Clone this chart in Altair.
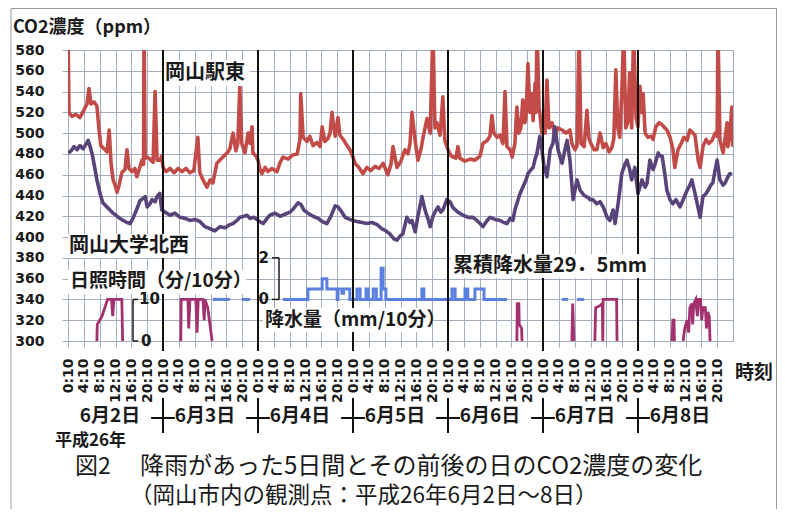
import altair as alt
import pandas as pd

# ---------------- data ----------------
SITE_EAST = "岡山駅東"
SITE_NW = "岡山大学北西"

# hours since 6/2 0:10, CO2 ppm (values above 580 are off-scale spikes)
RED_PAIRS = [
    (0, 600), (0.25, 520), (1.0, 516), (2.0, 518), (3.0, 515), (4.0, 522), (4.8, 528), (5.3, 543),
    (5.8, 528), (6.6, 530), (7.3, 526), (7.8, 505), (8.3, 488), (9.1, 485), (9.9, 482), (10.4, 503),
    (10.9, 470), (11.4, 455), (11.9, 450), (12.4, 443), (12.9, 450), (13.6, 462), (14.4, 465),
    (14.9, 484), (15.4, 466), (16.2, 463), (16.9, 466), (17.4, 458), (18.2, 468), (18.7, 474),
    (19.1, 470), (19.2, 600), (19.5, 476), (20.0, 477), (20.7, 475), (21.5, 472), (22.0, 540),
    (22.5, 474), (23.2, 474), (23.7, 478),
    (24.0, 467), (24.8, 463), (25.8, 466), (26.8, 462), (27.8, 466), (28.8, 463), (29.8, 466),
    (30.8, 462), (31.8, 464), (32.8, 496), (33.3, 462), (34.1, 455), (35.1, 448), (35.9, 455),
    (36.6, 452), (37.6, 471), (38.9, 476), (40.2, 481), (40.9, 485), (41.7, 500), (42.4, 483),
    (42.9, 490), (43.4, 545), (43.9, 490), (44.7, 481), (45.5, 500), (46.0, 490), (46.5, 506),
    (46.7, 481), (47.5, 478), (48.0, 474),
    (48.5, 465), (49.0, 461), (49.8, 467), (50.5, 463), (51.5, 466), (52.8, 463), (53.6, 472),
    (54.3, 477), (55.6, 475), (56.8, 479), (57.9, 480), (58.6, 494), (58.8, 538), (59.4, 496),
    (60.4, 492), (61.1, 497), (61.9, 488), (62.9, 491), (63.7, 487), (64.2, 506), (64.9, 492),
    (65.7, 495), (66.2, 500), (66.7, 520), (67.0, 510), (67.5, 497), (68.2, 515), (68.7, 498),
    (69.7, 493), (70.5, 488), (71.2, 484), (72.0, 477),
    (72.5, 471), (73.5, 467), (74.5, 461), (75.5, 467), (76.5, 464), (77.6, 468), (78.6, 466),
    (79.6, 471), (80.8, 460), (81.6, 470), (82.1, 487), (83.1, 467), (84.1, 473), (85.1, 484),
    (85.9, 480), (86.4, 490), (86.9, 520), (87.7, 493), (88.4, 474), (89.2, 485), (89.7, 496),
    (90.7, 514), (91.5, 500), (92.2, 600), (92.7, 505), (93.2, 510), (94.0, 498), (94.7, 535),
    (95.2, 493), (96.0, 484),
    (96.8, 478), (97.3, 477), (98.0, 476), (98.5, 487), (99.0, 476), (100.3, 473), (101.6, 475),
    (102.8, 474), (104.1, 478), (104.8, 490), (105.9, 493), (106.6, 497), (107.1, 517), (107.6, 500),
    (108.4, 496), (109.1, 498), (109.9, 490), (110.4, 540), (110.9, 487), (111.7, 484), (112.2, 477),
    (112.9, 490), (113.4, 525), (113.9, 500), (114.4, 505), (114.9, 532), (115.4, 510), (115.7, 515),
    (116.2, 567), (116.7, 520), (117.2, 538), (117.5, 512), (118.0, 548), (118.2, 520), (118.5, 600),
    (119.0, 525), (119.2, 519), (119.7, 500),
    (120.5, 500), (121.0, 551), (121.5, 505), (122.3, 510), (123.0, 498), (123.8, 505), (124.8, 503),
    (125.8, 500), (126.8, 503), (127.3, 490), (128.1, 484), (128.6, 488), (129.1, 600), (129.6, 490),
    (130.4, 487), (131.1, 522), (131.6, 495), (132.1, 490), (132.9, 484), (133.6, 484), (134.4, 500),
    (135.2, 486), (135.9, 490), (136.7, 482), (137.4, 486), (137.9, 495), (138.4, 561), (138.9, 505),
    (139.4, 496), (139.9, 538), (140.4, 600), (140.9, 505), (141.4, 510), (141.9, 558), (142.4, 505),
    (142.9, 600), (143.5, 515), (144.0, 506),
    (144.5, 545), (145.0, 520), (145.3, 538), (145.8, 500), (146.5, 496), (147.3, 497), (147.8, 494),
    (148.5, 506), (149.3, 510), (150.1, 508), (150.8, 505), (151.3, 503), (152.1, 496), (152.8, 485),
    (153.3, 467), (154.1, 484), (154.9, 490), (155.6, 496), (156.4, 493), (157.1, 503), (157.9, 500),
    (158.4, 498), (159.2, 474), (159.7, 467), (160.4, 487), (161.2, 494), (161.9, 490), (162.7, 493),
    (163.5, 500), (164.0, 497), (164.2, 600), (164.7, 493), (165.5, 481), (166.0, 495), (166.5, 510),
    (166.7, 487), (167.2, 500), (167.7, 525), (167.9, 487),
]

PURPLE_PAIRS = [
    (0, 481), (0.8, 483), (1.5, 487), (2.3, 484), (3.0, 488), (3.8, 485), (4.5, 489), (5.1, 493),
    (5.6, 487), (6.1, 480), (6.8, 466), (7.3, 455), (8.1, 442), (8.8, 433), (9.6, 430), (10.6, 426),
    (11.4, 423), (12.4, 420), (13.1, 418), (13.9, 416), (14.9, 414), (15.7, 413), (16.4, 418),
    (17.2, 425), (18.2, 435), (18.9, 437), (19.5, 439), (20.0, 429), (20.7, 432), (21.2, 436),
    (22.0, 434), (22.5, 439), (23.2, 442), (23.7, 426),
    (24.5, 424), (25.8, 421), (27.0, 423), (28.3, 419), (29.6, 418), (30.8, 416), (32.1, 417),
    (33.3, 415), (34.6, 410), (35.9, 408), (37.1, 406), (38.4, 410), (39.7, 409), (40.9, 412),
    (41.7, 413), (42.7, 416), (43.4, 419), (44.5, 420), (45.2, 421), (46.0, 418), (47.0, 419),
    (48.0, 416),
    (49.3, 413), (50.3, 418), (51.0, 421), (52.3, 423), (53.6, 420), (54.8, 422), (56.1, 424),
    (57.1, 428), (58.1, 433), (58.9, 431), (59.6, 426), (60.6, 423), (61.9, 420), (63.2, 418),
    (64.2, 415), (65.4, 413), (66.4, 420), (67.5, 430), (68.2, 429), (69.0, 425), (70.0, 419),
    (71.2, 417), (72.0, 416),
    (73.0, 415), (74.3, 414), (75.5, 413), (76.8, 414), (78.1, 412), (79.3, 408), (80.3, 406),
    (81.3, 403), (82.4, 398), (83.1, 397), (83.9, 401), (84.6, 403), (85.6, 419), (86.4, 414),
    (86.9, 416), (87.7, 405), (88.4, 420), (89.4, 439), (90.2, 426), (90.9, 418), (91.5, 410),
    (92.2, 420), (93.0, 426), (93.5, 429), (94.2, 424), (94.7, 426), (95.7, 436),
    (96.5, 434), (97.3, 428), (98.5, 424), (99.8, 421), (101.1, 419), (102.3, 419), (103.3, 416),
    (104.1, 413), (104.8, 410), (105.9, 416), (106.6, 419), (107.9, 417), (109.1, 416), (110.1, 414),
    (110.9, 413), (111.7, 418), (112.4, 416), (112.9, 426), (113.7, 436), (114.2, 442), (114.9, 448),
    (115.7, 455), (116.2, 461), (117.0, 465), (117.5, 467), (118.0, 475), (118.5, 481), (119.2, 497),
    (119.7, 485),
    (120.2, 470), (121.0, 458), (121.8, 484), (122.5, 490), (123.0, 506), (123.8, 484), (124.8, 471),
    (125.6, 485), (126.1, 493), (126.8, 474), (127.6, 436), (128.6, 455), (129.4, 445), (130.4, 440),
    (131.4, 438), (131.9, 436), (132.6, 436), (133.6, 432), (134.4, 434), (135.2, 429), (136.2, 419),
    (136.9, 416), (137.7, 426), (138.2, 413), (138.9, 430), (139.4, 445), (139.9, 461), (140.7, 470),
    (141.2, 474), (141.9, 465), (142.4, 455), (143.2, 467), (144.0, 442),
    (145.0, 455), (145.8, 448), (146.3, 452), (147.0, 474), (147.8, 465), (148.3, 470), (149.1, 481),
    (149.6, 478), (150.1, 478), (150.8, 460), (151.3, 445), (152.1, 436), (152.8, 432), (153.6, 436),
    (154.6, 429), (155.4, 436), (156.4, 445), (157.1, 450), (157.6, 455), (158.4, 442), (159.2, 428),
    (159.7, 419), (160.4, 439), (161.2, 442), (161.7, 445), (162.4, 450), (162.9, 452), (163.5, 465),
    (164.0, 474), (164.5, 460), (164.7, 455), (165.5, 450), (166.0, 452), (166.7, 458), (167.2, 461),
    (167.7, 460),
]

# sunshine duration (min per 10 min), one list per continuous stretch
SUN_SEGMENTS = [
    [(7.3, 0), (7.4, 4), (8.0, 5), (8.6, 6), (9.3, 8), (10.0, 10), (11.0, 10), (11.3, 6), (11.6, 10),
     (13.6, 10), (13.8, 0)],
    [(28.5, 0), (28.6, 10), (30.3, 10), (30.5, 3), (30.8, 10), (32.3, 10), (32.6, 2), (32.9, 10),
     (34.1, 10), (34.4, 5), (34.6, 10), (35.3, 8), (36.0, 3), (36.4, 0)],
    [(113.4, 0), (113.5, 9), (113.9, 9), (114.0, 4), (114.6, 3), (114.7, 0)],
    [(127.3, 0), (127.5, 9), (127.8, 0)],
    [(133.1, 0), (133.3, 8), (134.4, 8.5), (135.0, 9), (135.1, 0), (135.2, 10), (138.6, 10), (138.7, 0)],
    [(152.6, 0), (152.8, 5), (153.1, 5), (153.2, 0)],
    [(155.4, 0), (155.8, 3), (156.4, 5), (156.8, 2), (157.1, 8), (157.6, 9), (157.8, 4), (158.1, 9),
     (158.6, 10), (159.0, 6), (159.3, 10), (159.8, 10), (160.1, 5), (160.4, 8), (161.0, 8), (161.3, 3),
     (161.6, 7), (162.0, 6), (162.2, 0)],
]

# precipitation (mm per 10 min), step values, one list per continuous stretch
RAIN_SEGMENTS = [
    [(36.6, 0), (40.9, 0)],
    [(43.9, 0), (46.0, 0)],
    [(54.3, 0), (60.6, 0.5), (64.2, 1.0), (65.4, 0.5), (68.0, 0), (68.2, 0.5), (69.2, 0.3), (69.6, 0.5),
     (71.2, 0), (73.0, 0.5), (73.8, 0), (75.3, 0.5), (75.8, 0), (77.1, 0.5), (77.9, 0), (79.1, 1.5),
     (79.6, 0.5), (80.3, 0), (89.4, 0.5), (89.9, 0), (97.0, 0.5), (97.8, 0), (100.3, 0.5), (101.0, 0),
     (102.8, 0.5), (105.1, 0), (110.9, 0)],
    [(124.8, 0), (126.3, 0)],
    [(128.6, 0), (130.4, 0)],
]

DAY_LABELS = ["6月2日", "6月3日", "6月4日", "6月5日", "6月6日", "6月7日", "6月8日"]
DAY_BOUNDS = [24, 48, 72, 96, 120, 144]
TIME_LABELS = ["0:10", "4:10", "8:10", "12:10", "16:10", "20:10"]
X_TICKS = list(range(0, 168, 4))
Y_TICKS = list(range(300, 581, 20))

# ---------------- styling ----------------
W, H = 665, 291
GRID = "#a3adc0"
INK = "#1a1a1a"
RED = "#c24b47"
PURPLE = "#58437a"
MAGENTA = "#a3306f"
BLUE = "#5b80df"
CJK = "Noto Sans CJK JP"
NUM = "DejaVu Sans"

co2 = pd.DataFrame(
    [{"h": h, "v": v, "site": SITE_EAST} for h, v in RED_PAIRS]
    + [{"h": h, "v": v, "site": SITE_NW} for h, v in PURPLE_PAIRS]
)
sun = pd.DataFrame([{"h": h, "s": s, "seg": i} for i, seg in enumerate(SUN_SEGMENTS) for h, s in seg])
rain = pd.DataFrame([{"h": h, "p": p, "seg": i} for i, seg in enumerate(RAIN_SEGMENTS) for h, p in seg])
days = pd.DataFrame({"h": DAY_BOUNDS})
day_lab = pd.DataFrame({"h": [24 * i + 10.6 for i in range(len(DAY_LABELS))], "label": DAY_LABELS})
one = pd.DataFrame({"k": [0]})

xs = alt.Scale(domain=[0, 168], nice=False, zero=False)
ys = alt.Scale(domain=[300, 580], nice=False, zero=False)
label_expr = "[" + ",".join("'%s'" % t for t in TIME_LABELS) + "][floor((datum.value % 24) / 4)]"
x_axis = alt.Axis(values=X_TICKS, labelExpr=label_expr, labelAngle=270, labelFont=NUM, labelFontSize=14,
                  labelFontWeight="bold", labelColor=INK, labelOverlap=False, labelFlush=False,
                  labelPadding=11, tickSize=6, tickColor=GRID, domainColor=GRID, gridColor=GRID,
                  grid=True, title=None)
y_axis = alt.Axis(values=Y_TICKS, labelFont=NUM, labelFontSize=14, labelFontWeight="bold", labelColor=INK,
                  labelPadding=18, tickSize=6, tickColor=GRID, domainColor=GRID, gridColor=GRID,
                  grid=True, title=None)


def X(f):
    return alt.X(f, type="quantitative", scale=xs, axis=x_axis)


def Y(f):
    return alt.Y(f, type="quantitative", scale=ys, axis=y_axis)


def ypx(v):
    return (580 - v) / 280 * H


def box(x1, x2, y1, y2):
    return alt.Chart(one).mark_rect(fill="white").encode(
        x=alt.value(x1), x2=alt.value(x2), y=alt.value(y1), y2=alt.value(y2))


def label(txt, x, y, size, align="left", font=CJK, weight="bold"):
    return alt.Chart(one).mark_text(text=txt, align=align, baseline="middle", font=font,
                                    fontSize=size, fontWeight=weight, color=INK).encode(
        x=alt.value(x), y=alt.value(y))


def seg(x1, y1, x2=None, y2=None, color=INK, w=1.5):
    enc = {"x": alt.value(x1), "y": alt.value(y1)}
    if x2 is not None:
        enc["x2"] = alt.value(x2)
    if y2 is not None:
        enc["y2"] = alt.value(y2)
    return alt.Chart(one).mark_rule(color=color, strokeWidth=w).encode(**enc)


frame = alt.Chart(one).mark_rect(fillOpacity=0, stroke="#9a9a9a", strokeWidth=1).encode(
    x=alt.value(-57), x2=alt.value(708.5), y=alt.value(-41.5), y2=alt.value(480))

co2_lines = alt.Chart(co2).mark_line(strokeWidth=3.6, clip=True, strokeJoin="round").encode(
    x=X("h"), y=Y("v"),
    color=alt.Color("site:N", scale=alt.Scale(domain=[SITE_EAST, SITE_NW], range=[RED, PURPLE]), legend=None),
    order="h:Q",
)

sun_line = alt.Chart(sun).transform_calculate(y="300 + 4 * datum.s").mark_line(
    strokeWidth=2.8, color=MAGENTA, clip=True).encode(x=X("h"), y=Y("y"), detail="seg:N", order="h:Q")

rain_line = alt.Chart(rain).transform_calculate(y="340 + 20 * datum.p").mark_line(
    strokeWidth=3, color=BLUE, interpolate="step-after", clip=True).encode(
    x=X("h"), y=Y("y"), detail="seg:N", order="h:Q")

day_rules = alt.Chart(days).mark_rule(color="#111111", strokeWidth=2).encode(
    x=X("h"), y=alt.value(0), y2=alt.value(H + 10))

sep_v = alt.Chart(days).mark_rule(color="#111111", strokeWidth=2).encode(
    x=X("h"), y=alt.value(348), y2=alt.value(383))
sep_h = alt.Chart(days).transform_calculate(l="datum.h - 3", r="datum.h + 3").mark_rule(
    color="#111111", strokeWidth=2).encode(x=X("l"), x2="r:Q", y=alt.value(368))

day_text = alt.Chart(day_lab).mark_text(font=CJK, fontSize=19, fontWeight="bold", color=INK,
                                        baseline="middle").encode(
    x=X("h"), y=alt.value(366), text="label:N")

layers = [
    frame, sun_line, rain_line, co2_lines, day_rules,
    # annotation boxes
    box(96, 182, 10, 36),
    box(0, 127, 184, 208),
    box(0, 178, 220, 244),
    box(195, 364, 258, 282),
    box(383, 582, 204, 228),
    label(SITE_EAST, 97, 23, 20),
    label(SITE_NW, 1, 196, 20),
    label("日照時間（分/10分）", 2, 231, 19),
    label("降水量（mm/10分）", 197, 270, 19),
    label("累積降水量29．5mm", 385, 216, 20),
    # secondary scale marks: sunshine
    seg(65, ypx(340), y2=ypx(300)), seg(65, ypx(340), x2=70), seg(65, ypx(300), x2=70),
    label("10", 71, ypx(340), 15, font=NUM), label("0", 73, ypx(300), 15, font=NUM),
    # secondary scale marks: precipitation
    seg(211, ypx(380), y2=ypx(340)), seg(204, ypx(380), x2=211), seg(204, ypx(340), x2=211),
    label("2", 201, ypx(380), 15, align="right", font=NUM), label("0", 201, ypx(340), 15, align="right", font=NUM),
    # axis titles and outer labels
    label("CO2濃度（ppm）", -55, -22, 18),
    label("時刻", 667, 323, 19),
    sep_v, sep_h, day_text,
    label("平成26年", -13, 391, 17),
    label("図2", 7, 417, 23, weight="normal"),
    label("降雨があった5日間とその前後の日のCO2濃度の変化", 72, 417, 24, weight="normal"),
    label("（岡山市内の観測点：平成26年6月2日～8日）", 62, 446, 22.5, weight="normal"),
]

chart = alt.layer(*layers).properties(
    width=W, height=H,
    autosize=alt.AutoSizeParams(type="none"),
    padding={"left": 60, "top": 42, "right": 44, "bottom": 168},
    background="white",
).configure_view(stroke=GRID, strokeWidth=1)

chart.save("out.html", embed_options={"renderer": "svg", "actions": False})
